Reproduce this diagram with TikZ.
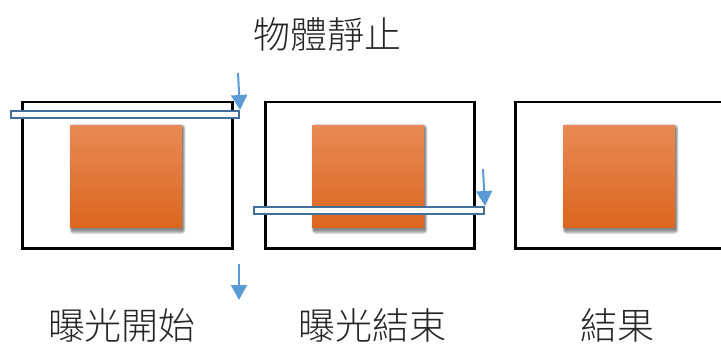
\documentclass[tikz,border=0pt]{standalone}
\usepackage{fontspec}
\newfontfamily\cjk{Noto Sans CJK TC Light}
\usetikzlibrary{arrows.meta,calc}
\definecolor{orangeTop}{HTML}{E88A55}
\definecolor{orangeBot}{HTML}{DB661F}
\definecolor{barblue}{HTML}{41709A}
\definecolor{arrowblue}{HTML}{5B9BD5}
\begin{document}
\begin{tikzpicture}[x=1pt,y=-1pt,
 frame/.style={draw=black,line width=2.5pt,minimum height=146pt,inner sep=0pt,anchor=north west},
 obj/.style={top color=orangeTop,bottom color=orangeBot,minimum width=112pt,minimum height=102pt,inner sep=0pt,anchor=north west},
 shade/.style={fill=black,opacity=0.12},
 bar/.style={draw=barblue,line width=2pt,fill=white,minimum height=7pt,inner sep=0pt,anchor=north west},
 arr/.style={color=arrowblue,line width=2pt,-{Triangle[width=16pt,length=15pt]}},
 lbl/.style={font=\cjk\fontsize{37}{44}\selectfont,text=black!85,inner sep=0pt}]
\useasboundingbox (0,0) rectangle (721,345);
\clip (0,0) rectangle (721,345);
% frames
\node[frame,minimum width=210pt] (f1) at (21,101) {};
\node[frame,minimum width=209pt] (f2) at (264,101) {};
\node[frame,minimum width=240pt] (f3) at (514,101) {};
% shadows
\foreach \px in {70,312,563}{
  \foreach \s in {0,1,2,3,4}{
    \fill[shade,rounded corners=\s pt] (\px+2-0.6*\s,128-\s) rectangle (\px+113+0.6*\s,230+\s);
  }
}
% objects
\node[obj] (o1) at (70,125) {};
\node[obj] (o2) at (312,125) {};
\node[obj] (o3) at (563,125) {};
% scan bars
\node[bar,minimum width=228pt] (b1) at (10,110) {};
\node[bar,minimum width=230pt] (b2) at (253,206) {};
% arrows
\coordinate (a1s) at (238,73);
\coordinate (a2s) at (483,169);
\coordinate (a3s) at (239,264);
\coordinate (a3e) at (239,300);
\draw[arr] (a1s) -- (b1.north east);
\draw[arr] (a2s) -- (b2.north east);
\draw[arr] (a3s) -- (a3e);
% labels
\node[lbl] (t0) at (327,35) {物體靜止};
\node[lbl] (t1) at (122,325) {曝光開始};
\node[lbl] (t2) at (372,325) {曝光結束};
\node[lbl] (t3) at (617,325) {結果};
\end{tikzpicture}
\end{document}
